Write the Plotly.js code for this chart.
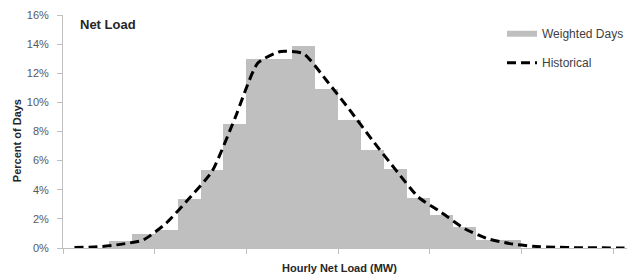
<!DOCTYPE html>
<html>
<head>
<meta charset="utf-8">
<script src="https://cdn.plot.ly/plotly-3.0.1.min.js"></script>
<style>html,body{margin:0;padding:0;background:#fff;}#chart{width:629px;height:276px;}</style>
</head>
<body>
<div id="chart"></div>
<script>
// Bin index along the (unlabelled) Hourly Net Load axis
const binIndex = [0,1,2,3,4,5,6,7,8,9,10,11,12,13,14,15,16,17,18,19,20,21,22,23,24];
// Weighted Days (% of days) per bin
const weightedDays = [0,0,0.47,0.94,1.25,3.35,5.36,8.5,13.0,13.0,13.9,10.9,8.8,6.7,5.4,3.45,2.27,1.46,0.55,0.55,0,0,0,0,0];
// Historical (% of days) per bin
const historical = [0.03,0.08,0.25,0.55,1.7,3.4,5.25,8.9,12.7,13.5,13.35,11.5,9.5,7.4,5.4,3.5,2.45,1.35,0.65,0.3,0.12,0.05,0.02,0.01,0.0];
// Tick marks at bin boundaries (no labels)
const xTickVals = [-0.5,3.5,7.5,11.5,15.5,19.5,23.5];
const yTickVals = [0,2,4,6,8,10,12,14,16];
const yTickText = ['0%','2%','4%','6%','8%','10%','12%','14%','16%'];

const font = 'Liberation Sans, Arial, sans-serif';
const axisGray = '#BFBFBF';

const traces = [
  {
    type: 'bar', x: binIndex, y: weightedDays, name: 'Weighted Days',
    marker: {color: '#BFBFBF', line: {width: 0}}, showlegend: false, hoverinfo: 'skip'
  },
  {
    type: 'scatter', mode: 'lines', x: [null], y: [null], name: 'Weighted Days',
    line: {color: '#BFBFBF', width: 6}, legendgroup: 'a', showlegend: true
  },
  {
    type: 'scatter', mode: 'lines', x: binIndex, y: historical, name: 'Historical',
    line: {color: '#000000', width: 3, dash: '9px,5px', shape: 'spline', smoothing: 0.55},
    legendgroup: 'b', showlegend: true, cliponaxis: false
  }
];

const layout = {
  width: 629, height: 276,
  margin: {l: 63, r: 0, t: 15, b: 28, pad: 0},
  paper_bgcolor: '#ffffff', plot_bgcolor: '#ffffff',
  font: {family: font, size: 11, color: '#595959'},
  bargap: 0,
  showlegend: true,
  legend: {
    x: 0.779, y: 0.982, xanchor: 'left', yanchor: 'top',
    font: {family: font, size: 12, color: '#404040'},
    bgcolor: 'rgba(0,0,0,0)', borderwidth: 0,
    traceorder: 'grouped', tracegroupgap: 10, itemwidth: 30
  },
  xaxis: {
    range: [-0.5, 24.109], showgrid: false, zeroline: false,
    showline: true, linecolor: axisGray, linewidth: 1,
    tickmode: 'array', tickvals: xTickVals, showticklabels: false,
    ticks: 'outside', ticklen: 5, tickcolor: axisGray, tickwidth: 1,
    fixedrange: true
  },
  yaxis: {
    range: [0, 16], showgrid: false, zeroline: false,
    showline: true, linecolor: axisGray, linewidth: 1,
    tickmode: 'array', tickvals: yTickVals, ticktext: yTickText,
    ticks: 'outside', ticklen: 5, tickcolor: axisGray, tickwidth: 1,
    ticklabelstandoff: 6,
    tickfont: {family: font, size: 11, color: '#595959'},
    fixedrange: true
  },
  annotations: [
    {text: '<b>Net Load</b>', xref: 'paper', yref: 'paper',
     x: (78 - 63) / 566, y: 1 - (25 - 15) / 233, xanchor: 'left', yanchor: 'middle',
     showarrow: false, font: {family: font, size: 13, color: '#262626'}},
    {text: '<b>Percent of Days</b>', xref: 'paper', yref: 'paper', textangle: -90,
     x: (17 - 63) / 566, y: 1 - (141 - 15) / 233, xanchor: 'center', yanchor: 'middle',
     showarrow: false, font: {family: font, size: 11, color: '#262626'}},
    {text: '<b>Hourly Net Load (MW)</b>', xref: 'paper', yref: 'paper',
     x: (340 - 63) / 566, y: -(268 - 248) / 233, xanchor: 'center', yanchor: 'middle',
     showarrow: false, font: {family: font, size: 11, color: '#262626'}}
  ]
};

Plotly.newPlot('chart', traces, layout, {displayModeBar: false, staticPlot: true});
</script>
</body>
</html>
